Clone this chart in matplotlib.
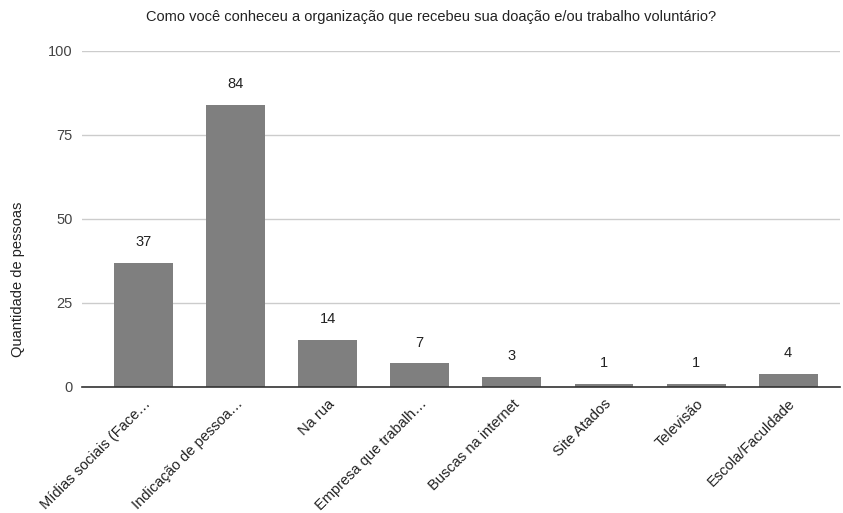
import matplotlib.pyplot as plt

plt.rcParams['font.family'] = ['Liberation Sans', 'DejaVu Sans']

# data
categories = ['Mídias sociais (Face…', 'Indicação de pessoa…', 'Na rua',
              'Empresa que trabalh…', 'Buscas na internet', 'Site Atados',
              'Televisão', 'Escola/Faculdade']
counts = [37, 84, 14, 7, 3, 1, 1, 4]
y_ticks = [0, 25, 50, 75, 100]

title = 'Como você conheceu a organização que recebeu sua doação e/ou trabalho voluntário?'
y_label = 'Quantidade de pessoas'

fs = 10.5

fig = plt.figure(figsize=(8.43, 5.13), dpi=100)
ax = fig.add_axes([82 / 843, 126 / 513, 758 / 843, 336 / 513])

x = list(range(len(categories)))
bars = ax.bar(x, counts, width=0.64, color='#7f7f7f', zorder=3)

# value labels above bars
for xi, v in zip(x, counts):
    ax.annotate(str(v), (xi, v), xytext=(0, 15), textcoords='offset points',
                ha='center', va='center', fontsize=fs, color='#222222')

ax.set_xlim(-0.668, 7.563)
ax.set_ylim(0, 100)
ax.set_yticks(y_ticks)
ax.set_yticklabels([str(t) for t in y_ticks], fontsize=fs, color='#444444')
ax.yaxis.grid(True, color='#cccccc', linewidth=1)
ax.set_axisbelow(True)
ax.tick_params(axis='y', length=0, pad=6.5)

ax.set_xticks(x)
ax.set_xticklabels(categories, rotation=45, ha='right', rotation_mode='anchor',
                   fontsize=fs, color='#222222')
ax.tick_params(axis='x', length=0, pad=7)

for side in ['top', 'right', 'left']:
    ax.spines[side].set_visible(False)
ax.spines['bottom'].set_color('#333333')
ax.spines['bottom'].set_linewidth(1.2)
ax.spines['bottom'].set_zorder(4)

fig.text(431 / 843, 1 - 17 / 513, title, ha='center', va='center',
         fontsize=fs, color='#222222')
fig.text(18 / 843, 1 - 279 / 513, y_label, rotation=90, ha='center', va='center',
         fontsize=fs, color='#222222')

fig.savefig('out.png', dpi=100)
